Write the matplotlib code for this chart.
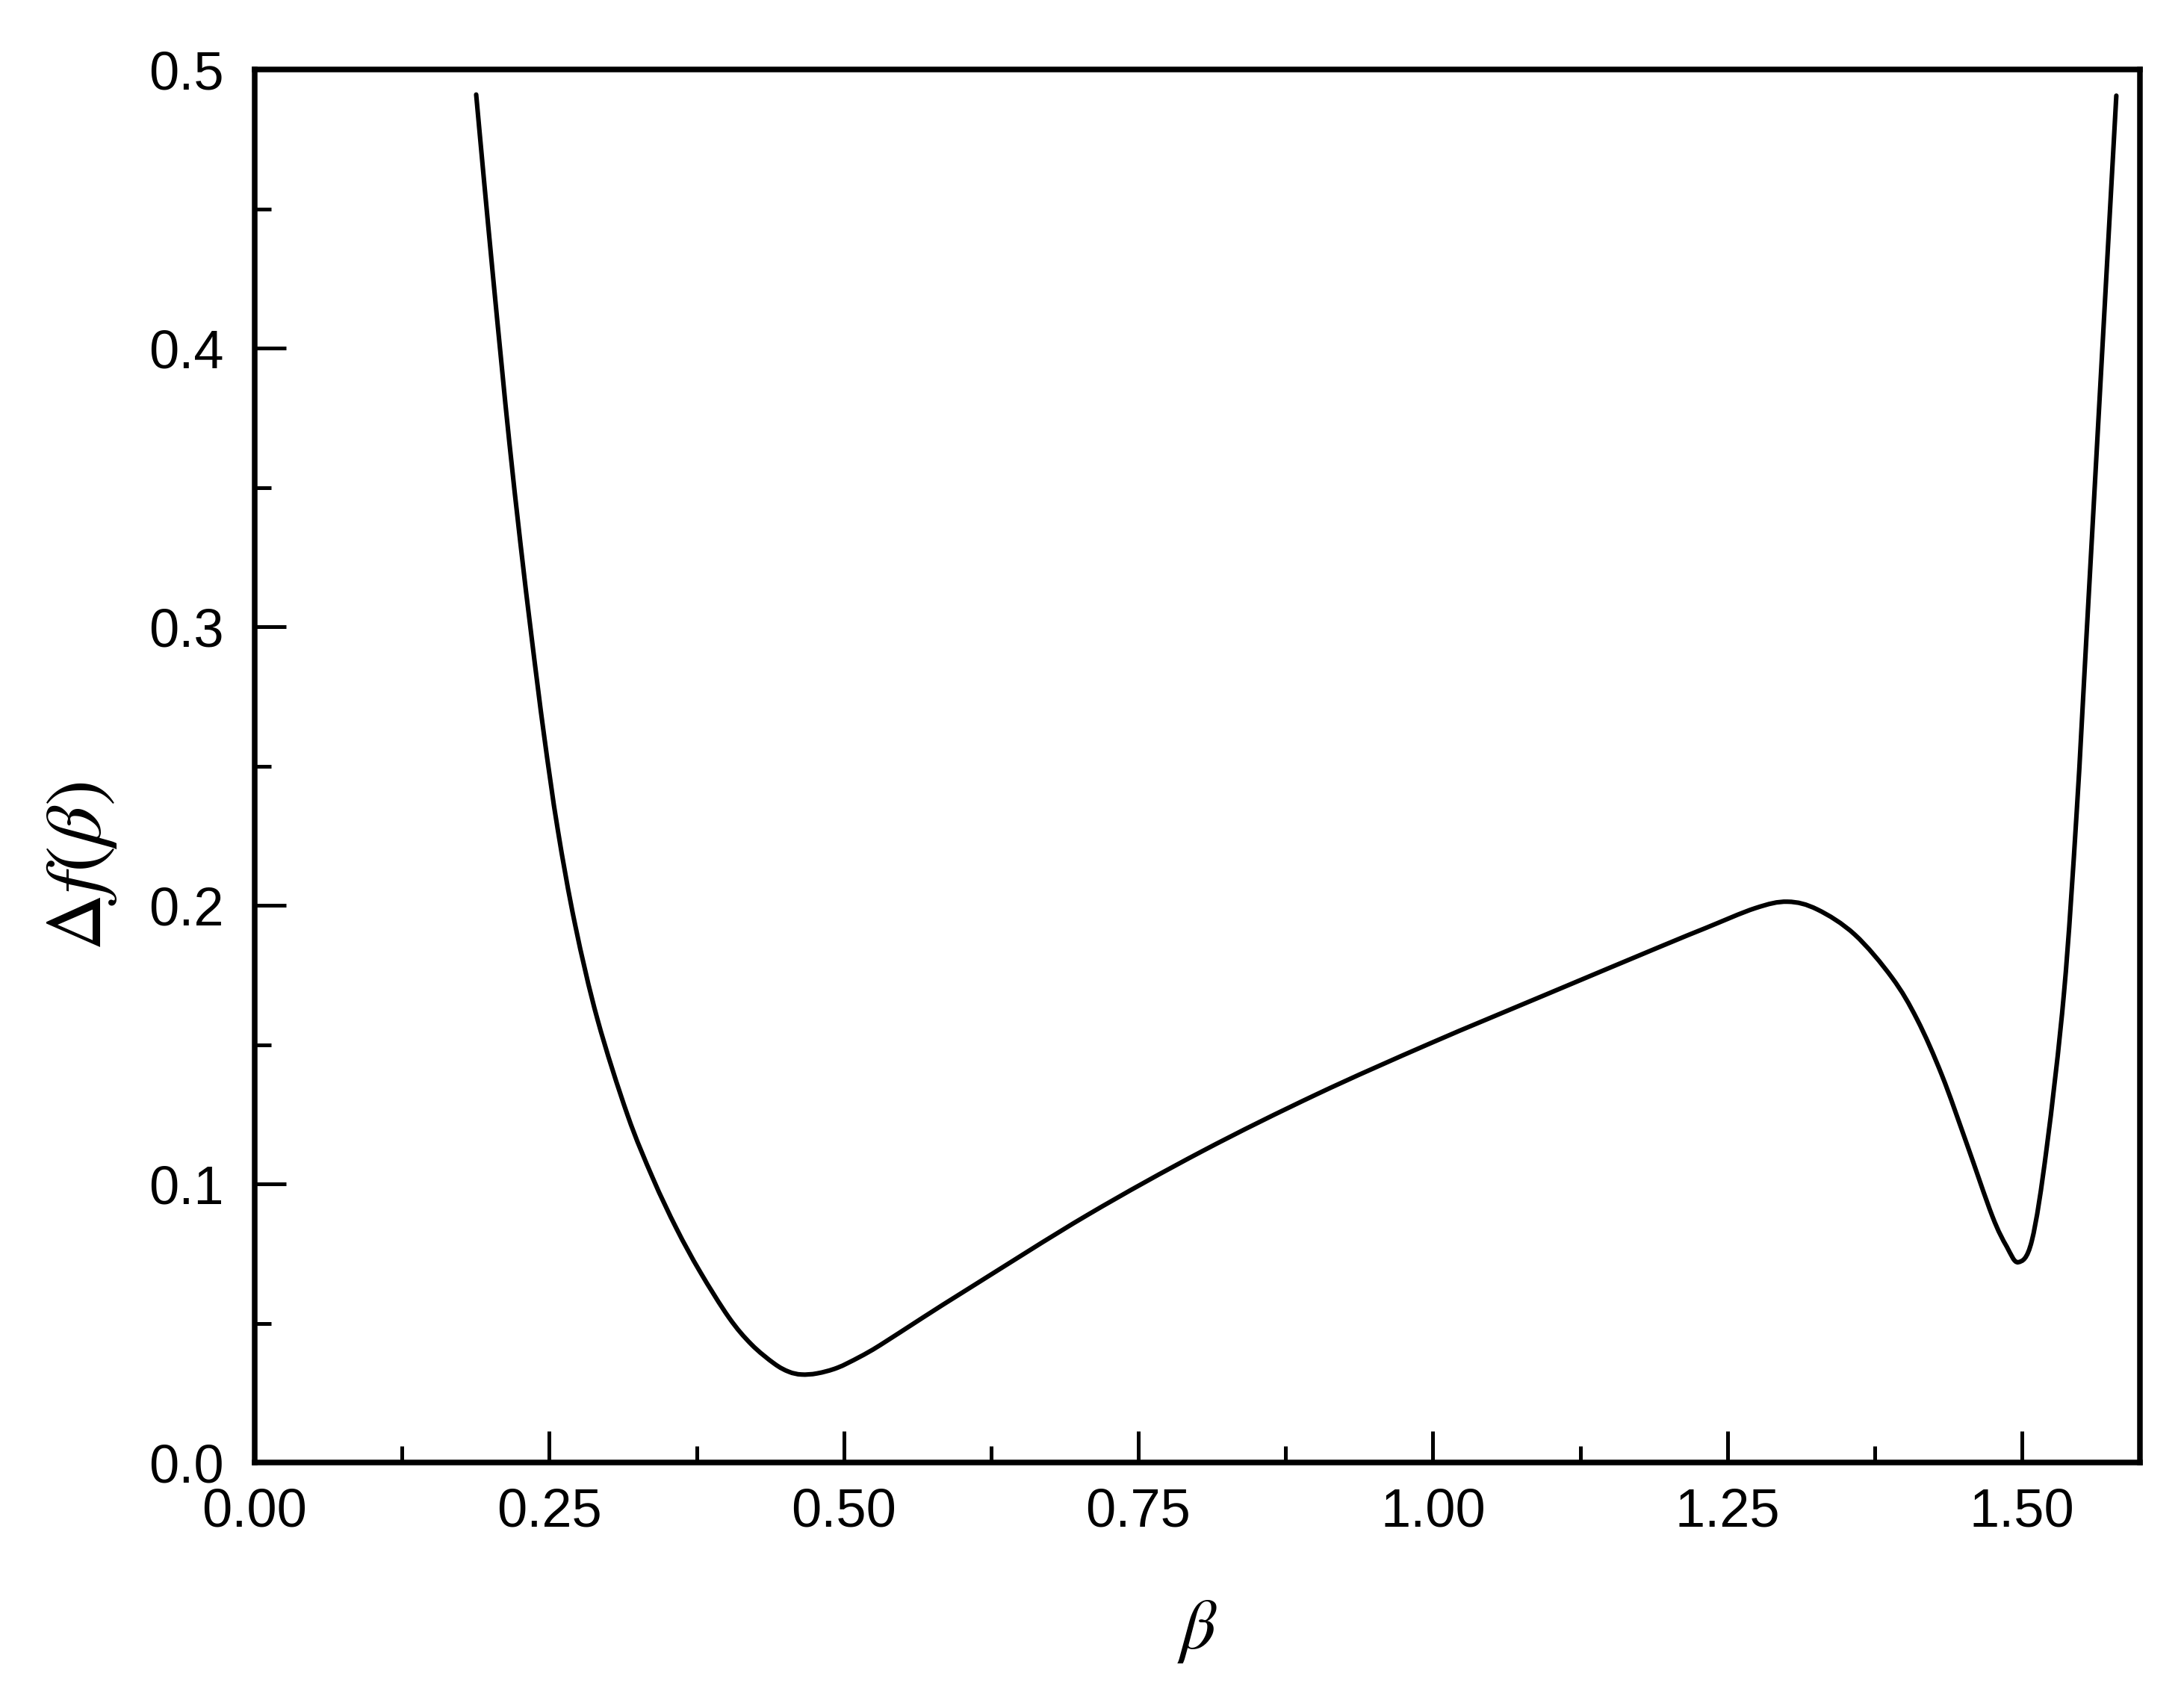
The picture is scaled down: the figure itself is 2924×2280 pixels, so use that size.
import matplotlib
matplotlib.use("Agg")
import matplotlib.pyplot as plt
import numpy as np
from matplotlib.path import Path
from matplotlib.patches import PathPatch
from matplotlib.ticker import MultipleLocator, FormatStrFormatter

plt.rcParams['font.family'] = ['Liberation Sans', 'DejaVu Sans']
plt.rcParams['mathtext.fontset'] = 'stix'

# beta values
beta = [0.1880, 0.1948, 0.2022, 0.2097, 0.2162, 0.2256, 0.2352, 0.2455, 0.2572,
        0.2720, 0.2910, 0.3164, 0.3380, 0.3580, 0.3780, 0.4026, 0.4216, 0.4410,
        0.4533, 0.4640, 0.4774, 0.4945, 0.5130, 0.5307, 0.5670, 0.6100, 0.7070,
        0.8040, 0.9010, 0.9980, 1.0950, 1.1920, 1.2312, 1.2737, 1.3010, 1.3263,
        1.3580, 1.3897, 1.4110, 1.4320, 1.4530, 1.4747, 1.4870, 1.4968, 1.5083,
        1.5209, 1.5356, 1.5463, 1.5546, 1.5640, 1.5717, 1.5800]
# delta f(beta)
delta_f = [0.4910, 0.4595, 0.4262, 0.3935, 0.3660, 0.3298, 0.2957, 0.2614, 0.2273,
           0.1930, 0.1590, 0.1248, 0.1020, 0.0840, 0.0685, 0.0520, 0.0424, 0.0355,
           0.0326, 0.0316, 0.0320, 0.0340, 0.0378, 0.0421, 0.0520, 0.0635, 0.0889,
           0.1117, 0.1321, 0.1505, 0.1678, 0.1850, 0.1918, 0.1990, 0.2013, 0.1985,
           0.1895, 0.1740, 0.1590, 0.1390, 0.1145, 0.0885, 0.0775, 0.0719, 0.0796,
           0.1129, 0.1686, 0.2330, 0.2960, 0.3680, 0.4270, 0.4906]


def smooth_path(xs, ys):
    # Catmull-Rom through the read points, drawn as cubic bezier pieces
    p = np.column_stack([xs, ys])
    p = np.vstack([p[0], p, p[-1]])
    verts = [p[1]]
    codes = [Path.MOVETO]
    for i in range(1, len(p) - 2):
        c1 = p[i] + (p[i + 1] - p[i - 1]) / 6
        c2 = p[i + 1] - (p[i + 2] - p[i]) / 6
        verts += [c1, c2, p[i + 1]]
        codes += [Path.CURVE4] * 3
    return Path(verts, codes)


fig = plt.figure(figsize=(14.62, 11.40), dpi=200)
ax = fig.add_axes([0.1166, 0.1412, 0.8632, 0.8180])

ax.add_patch(PathPatch(smooth_path(beta, delta_f), fill=False,
                       edgecolor='black', lw=2.2, capstyle='round'))

ax.set_xlim(0, 1.6)
ax.set_ylim(0, 0.5)

ax.xaxis.set_major_locator(MultipleLocator(0.25))
ax.xaxis.set_minor_locator(MultipleLocator(0.125))
ax.yaxis.set_major_locator(MultipleLocator(0.1))
ax.yaxis.set_minor_locator(MultipleLocator(0.05))
ax.xaxis.set_major_formatter(FormatStrFormatter('%.2f'))
ax.yaxis.set_major_formatter(FormatStrFormatter('%.1f'))

for s in ax.spines.values():
    s.set_linewidth(2.7)

ax.tick_params(which='both', direction='in', top=False, right=False, width=1.8)
ax.tick_params(which='major', length=15, labelsize=26)
ax.tick_params(axis='x', which='major', pad=12)
ax.tick_params(axis='y', which='major', pad=15)
ax.tick_params(which='minor', length=8)

ax.set_xlabel(r'$\beta$', fontsize=34)
ax.xaxis.label.set_va('center')
ax.xaxis.set_label_coords(0.5, -0.1212)

ax.set_ylabel(r'$\Delta f(\beta)$', fontsize=38)
ax.yaxis.label.set_va('center')
ax.yaxis.set_label_coords(-0.0915, 0.428)

fig.savefig('out.png', dpi=200)
